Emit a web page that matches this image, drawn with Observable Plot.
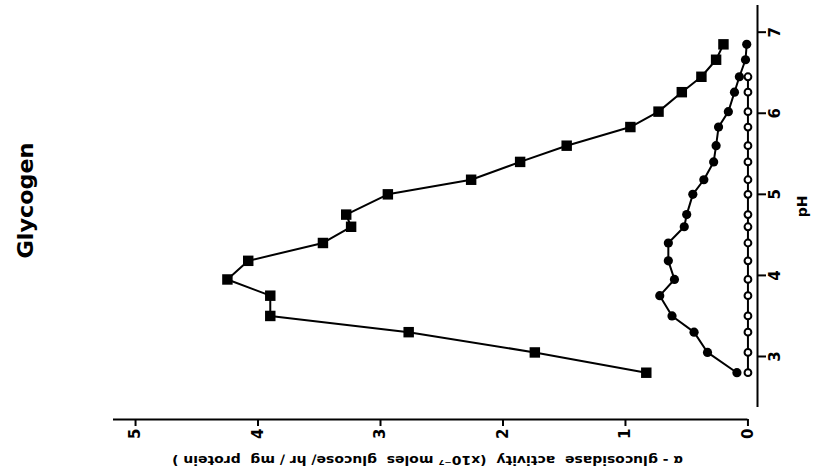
<!DOCTYPE html>
<html><head><meta charset="utf-8">
<script src="https://cdn.jsdelivr.net/npm/d3@7"></script>
<script src="https://cdn.jsdelivr.net/npm/@observablehq/plot@0.6"></script>
<style>body{margin:0;background:#fff}</style>
</head><body><div id="chart"></div>
<script>
// pH sampling points (shared by the three series)
const pH = [2.8, 3.05, 3.3, 3.5, 3.75, 3.95, 4.18, 4.4, 4.6, 4.75, 5.0, 5.18, 5.4, 5.6, 5.83, 6.02, 6.26, 6.45, 6.66, 6.85];
// alpha-glucosidase activity (x10^-7 moles glucose/hr/mg protein)
const squareActivity = [0.83, 1.74, 2.77, 3.90, 3.90, 4.25, 4.08, 3.47, 3.24, 3.28, 2.94, 2.26, 1.86, 1.48, 0.96, 0.73, 0.54, 0.38, 0.26, 0.20];
const filledActivity = [0.09, 0.33, 0.44, 0.62, 0.72, 0.60, 0.65, 0.65, 0.52, 0.50, 0.45, 0.36, 0.28, 0.26, 0.24, 0.16, 0.11, 0.07, 0.02, 0.01];
const openActivity = [0, 0, 0, 0, 0, 0, 0, 0, 0, 0, 0, 0, 0, 0, 0, 0, 0, 0];
const activityTicks = [0, 1, 2, 3, 4, 5];
const pHTicks = [3, 4, 5, 6, 7];
const title = "Glycogen";
const xLabel = "\u03b1 - glucosidase  activity  (x10\u207b\u2077 moles  glucose/ hr / mg  protein )";
const yLabel = "pH";

const rows = (vals) => vals.map((a, i) => ({pH: pH[i], activity: a}));
const sq = rows(squareActivity), fc = rows(filledActivity), oc = rows(openActivity);

const xMin = -0.078, xMax = 5.18, yMin = 2.223, yMax = 7.329;

const chart = Plot.plot({
  width: 816, height: 473,
  marginTop: 5, marginBottom: 54, marginLeft: 113, marginRight: 59,
  style: {fontFamily: "DejaVu Sans", fontWeight: "bold", background: "white", color: "black"},
  x: {domain: [xMax, xMin]},
  y: {domain: [yMin, yMax]},
  marks: [
    Plot.ruleY([yMin], {x1: xMax, x2: 0, stroke: "black", strokeWidth: 2}),
    Plot.ruleX([xMin], {y1: 2.37, y2: yMax, stroke: "black", strokeWidth: 2}),
    Plot.axisX({ticks: activityTicks, anchor: "bottom", tickSize: 7, tickPadding: 2, tickRotate: -90,
      textAnchor: "end", lineAnchor: "middle", fontSize: 15, strokeWidth: 2, label: null, tickFormat: d => String(d)}),
    Plot.axisY({ticks: pHTicks, anchor: "right", tickSize: 8, tickPadding: 4, tickRotate: -90,
      textAnchor: "middle", lineAnchor: "top", fontSize: 15, strokeWidth: 2, label: null, tickFormat: d => String(d)}),
    Plot.text([title], {frameAnchor: "left", dx: -87, dy: 46, rotate: -90, fontSize: 21, fontWeight: "bold", className: "ttl"}),
    Plot.text([xLabel], {frameAnchor: "bottom", dx: -8, dy: 36, rotate: 180, fontSize: 13, fontWeight: "bold", className: "xlab"}),
    Plot.text([yLabel], {frameAnchor: "right", dx: 45, dy: -17, rotate: -90, fontSize: 14, fontWeight: "bold"}),
    Plot.line(sq, {x: "activity", y: "pH", stroke: "black", strokeWidth: 2}),
    Plot.dot(sq, {x: "activity", y: "pH", symbol: "square", r: 5.9, fill: "black"}),
    Plot.line(fc, {x: "activity", y: "pH", stroke: "black", strokeWidth: 2}),
    Plot.dot(fc, {x: "activity", y: "pH", r: 4.6, fill: "black"}),
    Plot.line(oc, {x: "activity", y: "pH", stroke: "black", strokeWidth: 2}),
    Plot.dot(oc, {x: "activity", y: "pH", r: 3.4, fill: "white", stroke: "black", strokeWidth: 2})
  ]
});
d3.select(chart).selectAll(".xlab text").attr("textLength", 511).attr("lengthAdjust", "spacingAndGlyphs");
d3.select(chart).selectAll(".ttl text").attr("textLength", 116).attr("lengthAdjust", "spacingAndGlyphs");
document.getElementById("chart").appendChild(chart);
</script>
</body></html>
